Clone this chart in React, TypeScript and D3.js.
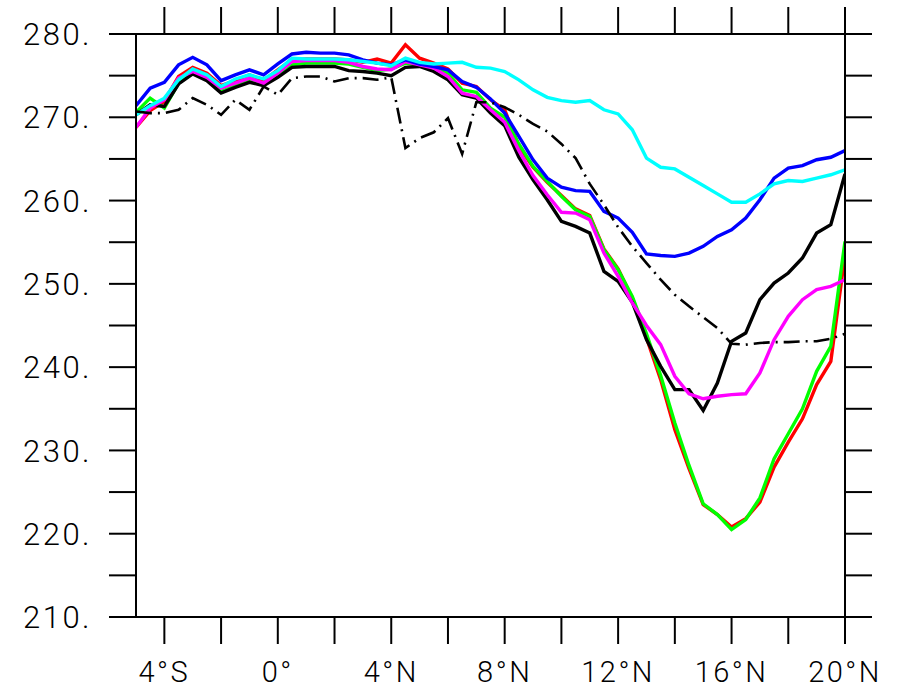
import React from "react";
import * as d3 from "d3";

// latitude grid, 0.5 degree steps from 5S to 20N
const lats: number[] = d3.range(0, 51).map((i) => -5 + i * 0.5);

const red = [268.8, 270.8, 271.9, 274.9, 276.0, 275.3, 273.8, 274.4, 275.1, 274.4, 275.7, 276.9, 277.0, 277.0, 277.0, 276.9, 276.6, 277.0, 276.5, 278.7, 277.1, 276.5, 275.8, 274.1, 273.7, 272.1, 270.9, 266.5, 264.0, 262.2, 260.6, 259.0, 258.2, 254.2, 251.8, 248.3, 243.5, 238.5, 232.5, 227.8, 223.5, 222.3, 220.8, 221.8, 223.8, 228.0, 231.0, 233.8, 237.9, 240.7, 253.5];
const green = [270.6, 272.3, 271.1, 274.1, 275.3, 274.6, 273.1, 273.8, 274.4, 273.9, 275.0, 276.3, 276.5, 276.5, 276.5, 276.4, 276.0, 275.6, 275.8, 276.5, 276.2, 276.0, 275.3, 273.3, 273.0, 271.1, 270.0, 266.8, 264.1, 262.3, 260.5, 258.9, 258.1, 254.1, 251.7, 248.5, 244.0, 239.0, 233.3, 228.2, 223.6, 222.3, 220.5, 221.7, 224.3, 229.0, 232.0, 235.0, 239.5, 242.5, 255.1];
const black = [270.3, 271.5, 271.3, 274.0, 275.2, 274.4, 272.9, 273.6, 274.2, 273.8, 274.8, 276.0, 276.1, 276.1, 276.1, 275.6, 275.5, 275.3, 275.0, 276.0, 276.1, 275.5, 274.5, 272.7, 272.3, 270.5, 269.0, 265.2, 262.5, 260.1, 257.5, 256.9, 256.1, 251.5, 250.3, 247.8, 243.3, 240.1, 237.3, 237.3, 234.8, 238.1, 243.1, 244.1, 248.1, 250.1, 251.3, 253.1, 256.1, 257.1, 263.2];
const magenta = [268.8, 271.1, 272.1, 274.7, 275.5, 274.8, 273.5, 274.1, 274.7, 274.1, 275.3, 276.7, 276.8, 276.8, 276.8, 276.6, 276.1, 275.8, 275.7, 276.7, 276.3, 275.9, 274.9, 272.9, 272.5, 270.9, 269.4, 266.0, 263.0, 260.7, 258.6, 258.5, 257.7, 253.7, 250.9, 247.7, 245.0, 242.7, 238.9, 236.8, 236.2, 236.5, 236.7, 236.8, 239.3, 243.3, 246.1, 248.1, 249.3, 249.7, 250.5];
const blue = [271.4, 273.5, 274.2, 276.3, 277.2, 276.3, 274.4, 275.1, 275.7, 275.1, 276.4, 277.6, 277.8, 277.7, 277.7, 277.5, 276.9, 276.5, 276.3, 276.9, 276.4, 276.1, 275.7, 274.3, 273.6, 272.2, 270.5, 267.7, 264.9, 262.7, 261.6, 261.2, 261.1, 258.7, 257.9, 256.2, 253.6, 253.4, 253.3, 253.7, 254.5, 255.7, 256.5, 257.9, 260.1, 262.7, 263.9, 264.2, 264.9, 265.2, 266.0];
const cyan = [270.3, 271.4, 272.3, 274.5, 275.8, 275.1, 273.7, 274.6, 275.1, 274.6, 275.6, 277.1, 277.0, 277.0, 277.0, 276.9, 276.7, 276.5, 276.2, 277.1, 276.6, 276.4, 276.5, 276.6, 276.0, 275.9, 275.5, 274.5, 273.3, 272.4, 272.0, 271.8, 272.0, 270.9, 270.4, 268.5, 265.1, 264.0, 263.8, 262.8, 261.8, 260.8, 259.8, 259.8, 260.8, 262.0, 262.4, 262.3, 262.7, 263.1, 263.7];
const dashDot = [270.7, 270.5, 270.5, 270.9, 272.3, 271.5, 270.3, 272.1, 270.9, 273.7, 272.7, 274.7, 274.9, 274.9, 274.3, 274.7, 274.7, 274.5, 274.8, 266.3, 267.5, 268.2, 269.9, 265.6, 271.8, 271.8, 271.2, 270.3, 269.2, 268.3, 266.8, 265.1, 262.0, 259.5, 256.8, 254.5, 252.5, 250.5, 248.7, 247.3, 246.0, 244.7, 242.8, 242.7, 242.9, 243.0, 243.0, 243.1, 243.1, 243.4, 244.0];

const xTicks = d3.range(-4, 21, 2);
const xLabels: [number, string][] = [[-4, "4°S"], [0, "0°"], [4, "4°N"], [8, "8°N"], [12, "12°N"], [16, "16°N"], [20, "20°N"]];
const yTicks = d3.range(210, 281, 5);
const yLabels = d3.range(210, 281, 10);

const series = [
  { values: red, color: "#ff0000", dash: "" },
  { values: green, color: "#00ff00", dash: "" },
  { values: black, color: "#000000", dash: "" },
  { values: magenta, color: "#ff00ff", dash: "" },
  { values: blue, color: "#0000ff", dash: "" },
  { values: cyan, color: "#00ffff", dash: "" },
  { values: dashDot, color: "#000000", dash: "16,6,2,6" },
];

const W = 897;
const H = 691;
const box = { left: 136, right: 845, top: 34, bottom: 617 };
const tickLen = 27;
const font = "Roboto, 'Liberation Sans', sans-serif";

export default function App() {
  const x = d3.scaleLinear().domain([-5, 20]).range([box.left, box.right]);
  const y = d3.scaleLinear().domain([210, 280]).range([box.bottom, box.top]);
  const line = d3
    .line<number>()
    .x((_, i) => x(lats[i]))
    .y((d) => y(d));

  return (
    <svg width={W} height={H} style={{ position: "absolute", left: 0, top: 0, background: "#fff" }}>
      <defs>
        <clipPath id="plot">
          <rect x={box.left} y={box.top} width={box.right - box.left} height={box.bottom - box.top} />
        </clipPath>
      </defs>
      <g clipPath="url(#plot)">
        {series.map((s, k) => (
          <path
            key={k}
            d={line(s.values) || ""}
            fill="none"
            stroke={s.color}
            strokeWidth={s.dash ? 2.6 : 3.4}
            strokeDasharray={s.dash || undefined}
            strokeLinejoin="miter"
          />
        ))}
      </g>
      {/* frame */}
      <rect
        x={box.left}
        y={box.top}
        width={box.right - box.left}
        height={box.bottom - box.top}
        fill="none"
        stroke="#000"
        strokeWidth={2}
      />
      {/* x ticks top and bottom */}
      {xTicks.map((t) => (
        <g key={"x" + t}>
          <line x1={x(t)} x2={x(t)} y1={box.bottom} y2={box.bottom + tickLen} stroke="#000" strokeWidth={2} />
          <line x1={x(t)} x2={x(t)} y1={box.top} y2={box.top - tickLen} stroke="#000" strokeWidth={2} />
        </g>
      ))}
      {/* y ticks left and right */}
      {yTicks.map((t) => (
        <g key={"y" + t}>
          <line x1={box.left} x2={box.left - tickLen} y1={y(t)} y2={y(t)} stroke="#000" strokeWidth={2} />
          <line x1={box.right} x2={box.right + tickLen} y1={y(t)} y2={y(t)} stroke="#000" strokeWidth={2} />
        </g>
      ))}
      {yLabels.map((t) => (
        <text
          key={"yl" + t}
          x={92}
          y={y(t) + 3}
          textAnchor="end"
          dominantBaseline="middle"
          fontFamily={font}
          fontWeight={300}
          fontSize={31}
          letterSpacing={2.5}
        >
          {t + "."}
        </text>
      ))}
      {xLabels.map(([v, s]) => (
        <text
          key={"xl" + v}
          x={x(v)}
          y={682}
          textAnchor="middle"
          fontFamily={font}
          fontWeight={300}
          fontSize={29}
          letterSpacing={2.5}
        >
          {s}
        </text>
      ))}
    </svg>
  );
}
